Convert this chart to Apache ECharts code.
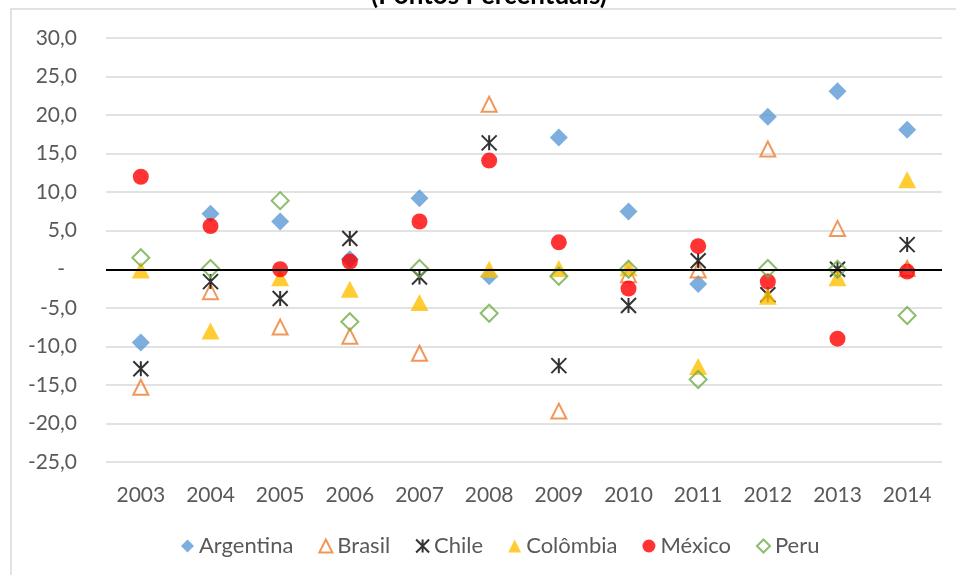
<!DOCTYPE html>
<html>
<head>
<meta charset="utf-8">
<title>Pontos Percentuais</title>
<script src="https://cdn.jsdelivr.net/npm/echarts@6/dist/echarts.min.js"></script>
<style>
  html, body { margin: 0; padding: 0; background: #fff; }
  #chart { width: 956px; height: 575px; }
</style>
</head>
<body>
<div id="chart"></div>
<script>
// Years on the category axis
const years = ['2003', '2004', '2005', '2006', '2007', '2008', '2009', '2010', '2011', '2012', '2013', '2014'];

// Values per country (percentage points)
const argentina = [-9.5, 7.2, 6.2, 1.3, 9.2, -0.9, 17.1, 7.5, -1.9, 19.8, 23.1, 18.1];
const brasil    = [-15.3, -2.9, -7.5, -8.7, -10.9, 21.4, -18.4, -0.7, -0.1, 15.6, 5.3, 0.1];
const chile     = [-12.9, -1.6, -3.8, 4.0, -1.0, 16.4, -12.5, -4.7, 1.1, -3.3, 0.0, 3.2];
const colombia  = [-0.1, -8.0, -1.1, -2.6, -4.3, 0.0, 0.1, 0.2, -12.6, -3.5, -1.1, 11.6];
const mexico    = [12.0, 5.6, 0.0, 1.0, 6.2, 14.1, 3.5, -2.5, 3.0, -1.6, -9.0, -0.3];
const peru      = [1.5, 0.1, 8.9, -6.8, 0.1, -5.7, -0.9, 0.0, -14.3, 0.1, 0.0, -6.0];

// Value axis range and step
const yMin = -25, yMax = 30, yStep = 5;

const FONT = 'Lato';
const TEXT_COLOR = '#595959';

const chart = echarts.init(document.getElementById('chart'), null, { renderer: 'canvas' });

function fmtY(v) {
  if (v === 0) return '{z|-}';
  return v.toFixed(1).replace('.', ',');
}

const asterisk = 'path://M0,0L10,10M10,0L0,10M5,0L5,10';

const option = {
  animation: false,
  backgroundColor: '#fff',
  graphic: [
    {
      type: 'rect',
      shape: { x: 11, y: 9, width: 1000, height: 700 },
      style: { fill: 'none', stroke: '#d9d9d9', lineWidth: 1.5 },
      silent: true
    },
    {
      type: 'text',
      x: 489, y: 9,
      style: {
        text: '(Pontos Percentuais)',
        font: 'bold 26px ' + FONT,
        fill: '#000',
        textAlign: 'center',
        textVerticalAlign: 'bottom'
      },
      silent: true
    }
  ],
  grid: { left: 106, right: 14, top: 38, bottom: 113, containLabel: false },
  legend: {
    bottom: 13,
    left: 176,
    itemWidth: 13,
    itemHeight: 13,
    itemGap: 25,
    textStyle: { fontFamily: FONT, fontSize: 22, color: TEXT_COLOR },
    data: ['Argentina', 'Brasil', 'Chile', 'Colômbia', 'México', 'Peru']
  },
  xAxis: {
    type: 'category',
    data: years,
    boundaryGap: true,
    axisLine: { show: false },
    axisTick: { show: false },
    splitLine: { show: false },
    axisLabel: { fontFamily: FONT, fontSize: 21, color: TEXT_COLOR, margin: 23 }
  },
  yAxis: {
    type: 'value',
    min: yMin, max: yMax, interval: yStep,
    axisLine: { show: false },
    axisTick: { show: false },
    splitLine: { lineStyle: { color: '#d9d9d9', width: 1.5 } },
    axisLabel: {
      fontFamily: FONT, fontSize: 21, color: TEXT_COLOR, margin: 29,
      formatter: fmtY,
      rich: { z: { fontFamily: FONT, fontSize: 21, color: TEXT_COLOR, padding: [0, 12, 0, 0] } }
    }
  },
  series: [
    {
      name: 'Argentina', type: 'scatter', data: argentina,
      symbol: 'diamond', symbolSize: 18,
      itemStyle: { color: '#5B9BD5' },
      markLine: {
        silent: true, symbol: 'none', label: { show: false },
        lineStyle: { color: '#000', width: 2, type: 'solid' },
        data: [{ yAxis: 0 }]
      }
    },
    {
      name: 'Brasil', type: 'scatter', data: brasil,
      symbol: 'triangle', symbolSize: [15, 15],
      itemStyle: { color: 'rgba(255,255,255,0)', borderColor: '#ED7D31', borderWidth: 2 }
    },
    {
      name: 'Chile', type: 'scatter', data: chile,
      symbol: asterisk, symbolSize: 15,
      itemStyle: { color: 'rgba(0,0,0,0)', borderColor: '#000', borderWidth: 2 }
    },
    {
      name: 'Colômbia', type: 'scatter', data: colombia,
      symbol: 'triangle', symbolSize: [18, 17],
      itemStyle: { color: '#FFC000' }
    },
    {
      name: 'México', type: 'scatter', data: mexico,
      symbol: 'circle', symbolSize: 16,
      itemStyle: { color: '#FF0000' }
    },
    {
      name: 'Peru', type: 'scatter', data: peru,
      symbol: 'diamond', symbolSize: 17,
      itemStyle: { color: 'rgba(255,255,255,0)', borderColor: '#70AD47', borderWidth: 2 }
    }
  ]
};

chart.setOption(option);
</script>
</body>
</html>
